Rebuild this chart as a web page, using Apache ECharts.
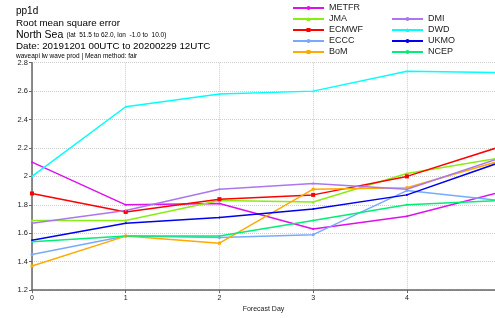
<!DOCTYPE html>
<html lang="en">
<head>
  <meta charset="UTF-8">
  <title>RMSE pp1d</title>
  <style>
    body{ margin: 0; }
    .chart{ width: 495px; height: 318px; background: white; }
  </style>
</head>
<body>
<div class="chart"></div>
<script src="https://cdn.jsdelivr.net/npm/echarts@6/dist/echarts.min.js"></script>
<script>
  const days = [0, 1, 2, 3, 4, 5];
  const METFR = [2.10, 1.80, 1.81, 1.63, 1.72, 1.89];
  const JMA   = [1.69, 1.69, 1.83, 1.82, 2.02, 2.13];
  const ECMWF = [1.88, 1.75, 1.84, 1.87, 2.00, 2.21];
  const ECCC  = [1.45, 1.58, 1.57, 1.59, 1.90, 1.83];
  const BoM   = [1.37, 1.58, 1.53, 1.91, 1.92, 2.11];
  const DMI   = [1.67, 1.76, 1.91, 1.95, 1.91, 2.13];
  const DWD   = [2.00, 2.49, 2.58, 2.60, 2.74, 2.73];
  const UKMO  = [1.55, 1.67, 1.71, 1.77, 1.87, 2.10];
  const NCEP  = [1.54, 1.58, 1.58, 1.69, 1.80, 1.83];

  const models = [
    {name: 'METFR', data: METFR, color: '#dd11ee', symbol: 'circle', size: 2},
    {name: 'JMA',   data: JMA,   color: '#88ee11', symbol: 'triangle', size: 3},
    {name: 'ECMWF', data: ECMWF, color: '#ff0000', symbol: 'rect', size: 4},
    {name: 'ECCC',  data: ECCC,  color: '#77aaff', symbol: 'circle', size: 3},
    {name: 'BoM',   data: BoM,   color: '#ffaa00', symbol: 'rect', size: 3},
    {name: 'DMI',   data: DMI,   color: '#aa77ee', symbol: 'circle', size: 2},
    {name: 'DWD',   data: DWD,   color: '#00ffff', symbol: 'triangle', size: 2},
    {name: 'UKMO',  data: UKMO,  color: '#0000ee', symbol: 'circle', size: 2},
    {name: 'NCEP',  data: NCEP,  color: '#00ee77', symbol: 'circle', size: 2}
  ];

  const legendBase = {
    orient: 'vertical',
    padding: 0,
    itemWidth: 31,
    itemHeight: 5,
    itemGap: 2,
    textStyle: {fontSize: 9, color: '#222', fontFamily: 'Liberation Sans'}
  };

  const font = 'Liberation Sans';
  const instance = echarts.init(document.querySelector('.chart'));
  const option = {
    animation: false,
    grid: {left: 32, right: 0, top: 62.7, bottom: 25},
    legend: [
      Object.assign({}, legendBase, {left: 292, top: 3.5, data: ['METFR', 'JMA', 'ECMWF', 'ECCC', 'BoM']}),
      Object.assign({}, legendBase, {left: 391, top: 14.5, data: ['DMI', 'DWD', 'UKMO', 'NCEP']})
    ],
    graphic: [
      {type: 'text', left: 16, top: 6, style: {text: 'pp1d', fontSize: 10, fill: '#000', fontFamily: font}},
      {type: 'text', left: 16, top: 18, style: {text: 'Root mean square error', fontSize: 9.8, fill: '#000', fontFamily: font}},
      {type: 'text', left: 16, top: 29.5, style: {
        text: '{a|North Sea} {b|(lat  51.5 to 62.0, lon  -1.0 to  10.0)}',
        rich: {a: {fontSize: 10.5, fill: '#000', fontFamily: font},
               b: {fontSize: 6.5, fill: '#000', fontFamily: font}}
      }},
      {type: 'text', left: 16, top: 41.5, style: {text: 'Date: 20191201 00UTC to 20200229 12UTC', fontSize: 9.8, fill: '#000', fontFamily: font}},
      {type: 'text', left: 16, top: 52.5, style: {text: 'waveapi lw wave prod | Mean method: fair', fontSize: 6.5, fill: '#000', fontFamily: font}}
    ],
    xAxis: {
      type: 'value',
      min: 0,
      max: 4.94,
      interval: 1,
      name: 'Forecast Day',
      nameLocation: 'middle',
      nameGap: 15,
      nameTextStyle: {fontSize: 7, color: '#222'},
      axisLine: {onZero: false, lineStyle: {color: '#666', width: 1.5}},
      axisTick: {length: 3, lineStyle: {color: '#666'}},
      axisLabel: {fontSize: 7, color: '#222', margin: 4, showMaxLabel: false,
        formatter: v => Number.isInteger(v) ? String(v) : ''},
      splitLine: {show: true, lineStyle: {color: '#ccc', type: 'dotted'}}
    },
    yAxis: {
      type: 'value',
      min: 1.2,
      max: 2.8,
      interval: 0.2,
      axisLine: {show: true, lineStyle: {color: '#666', width: 1.5}},
      axisTick: {show: true, length: 3, lineStyle: {color: '#666'}},
      axisLabel: {fontSize: 7.5, color: '#222', margin: 4},
      splitLine: {show: true, lineStyle: {color: '#ccc', type: 'dotted'}}
    },
    series: models.map(m => ({
      name: m.name,
      type: 'line',
      clip: true,
      color: m.color,
      symbol: m.symbol,
      symbolSize: m.size,
      showSymbol: true,
      lineStyle: {width: 1.5, color: m.color},
      itemStyle: {color: m.color},
      data: days.map((d, i) => [d, m.data[i]])
    }))
  };
  instance.setOption(option);
</script>
</body>
</html>
